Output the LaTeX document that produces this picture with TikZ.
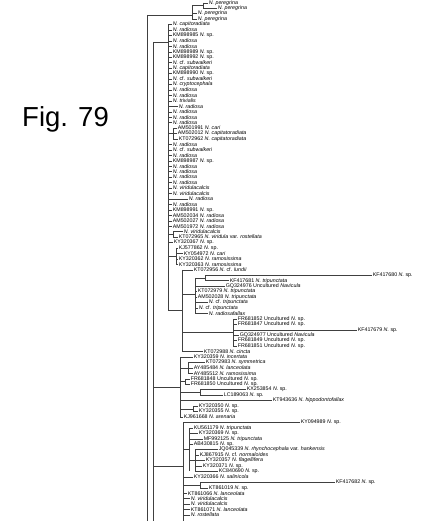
\documentclass[tikz,border=0pt]{standalone}
\usepackage{fontspec}
\setmainfont{Liberation Sans}
\tikzset{
  leaf/.style={anchor=west, inner sep=0.6pt, font=\fontsize{5.3}{5.3}\selectfont},
  br/.style={line width=0.35pt, black!75},
  figlabel/.style={anchor=base west, inner sep=0pt, font=\fontsize{27.5}{30}\selectfont},
}
\begin{document}
\begin{tikzpicture}[x=1pt,y=-1pt,declare function={ry(\r)=2.7+(\r-1)*5.45;}]
\useasboundingbox (0,0) rectangle (428,521);
\node[figlabel] (fig) at (22,127) {Fig. 79};
% backbone
\draw[br] (147,{ry(3.25)}) -- (147,521);
\draw[br] (153,{ry(8.2)}) -- (153,521);
% clades: name/x/top/bottom/parent x/attach row
\foreach \n/\x/\a/\b/\p/\m in {per/192/1.5/4/147/3.25, per2/203/1/2/192/1.5,
  rad/168/5/57.5/153/8.2, cari/173/24/26/168/25, vir/173/43/44/168/43.5,
  ram/176/46/49/168/47.5, lun/182/50/65/168/57.5, trip/195/51.5/58/182/54.5,
  kf/205/51/52/195/51.5, fr/233/59/64/182/61.5,
  low/180/66/77/153/71.5, sym/188/67/69/180/68, frb/185/70/71/180/70.5,
  kx/200/72/73/180/72.5, ksp/193/75/76/180/75.5,
  tri/183/78/96.5/153/86, trib/189/79/87/183/83, jq/195/83/87/189/85,
  kfb/200/89/90/183/89.5}{
  \coordinate (c\n) at (\x,{ry(\m)});
  \draw[br] (\x,{ry(\a)}) -- (\x,{ry(\b)});
  \draw[br] (\p,{ry(\m)}) -- (c\n);
}
% leaves: row/label x/parent x/text
\foreach \r/\x/\p/\t in {
  1/208/203/{\textit{N. peregrina}}, 2/217/203/{\textit{N. peregrina}},
  3/197/192/{\textit{N. peregrina}}, 4/197/192/{\textit{N. peregrina}},
  5/172/168/{\textit{N. capitoradiata}}, 6/172/168/{\textit{N. radiosa}},
  7/172/168/{KM898985 \textit{N.} sp.}, 8/172/168/{\textit{N. radiosa}},
  9/172/168/{\textit{N. radiosa}}, 10/172/168/{KM898989 \textit{N.} sp.},
  11/172/168/{KM898992 \textit{N.} sp.}, 12/172/168/{\textit{N.} cf. \textit{subwalkeri}},
  13/172/168/{\textit{N. capitoradiata}}, 14/172/168/{KM898990 \textit{N.} sp.},
  15/172/168/{\textit{N.} cf. \textit{subwalkeri}}, 16/172/168/{\textit{N. cryptocephala}},
  17/172/168/{\textit{N. radiosa}}, 18/172/168/{\textit{N. radiosa}},
  19/172/168/{\textit{N. trivialis}}, 20/178/168/{\textit{N. radiosa}},
  21/172/168/{\textit{N. radiosa}}, 22/172/168/{\textit{N. radiosa}},
  23/172/168/{\textit{N. radiosa}}, 24/177/173/{AM501991 \textit{N. cari}},
  25/177/173/{AM502012 \textit{N. capitatoradiata}}, 26/178/173/{KT072962 \textit{N. capitatoradiata}},
  27/172/168/{\textit{N. radiosa}}, 28/172/168/{\textit{N.} cf. \textit{subwalkeri}},
  29/172/168/{\textit{N. radiosa}}, 30/172/168/{KM898987 \textit{N.} sp.},
  31/172/168/{\textit{N. radiosa}}, 32/172/168/{\textit{N. radiosa}},
  33/172/168/{\textit{N. radiosa}}, 34/172/168/{\textit{N. radiosa}},
  35/172/168/{\textit{N. viridulacalcis}}, 36/172/168/{\textit{N. viridulacalcis}},
  37/188/168/{\textit{N. radiosa}}, 38/172/168/{\textit{N. radiosa}},
  39/172/168/{KM898991 \textit{N.} sp.}, 40/172/168/{AM502034 \textit{N. radiosa}},
  41/172/168/{AM502027 \textit{N. radiosa}}, 42/172/168/{AM501972 \textit{N. radiosa}},
  43/183/173/{\textit{N. viridulacalcis}}, 44/178/173/{KT072965 \textit{N. viridula} var. \textit{rostellata}},
  45/173/168/{KY320367 \textit{N.} sp.}, 46/178/176/{KJ577862 \textit{N.} sp.},
  47/183/176/{KY054972 \textit{N. cari}}, 48/178/176/{KY320362 \textit{N. ramosissima}},
  49/178/176/{KY320363 \textit{N. ramosissima}}, 50/193/182/{KT072956 \textit{N.} cf. \textit{lundii}},
  51/372/205/{KF417680 \textit{N.} sp.}, 52/229/205/{KF417681 \textit{N. tripunctata}},
  53/225/195/{GQ324976 Uncultured \textit{Navicula}}, 54/197/195/{KT072979 \textit{N. tripunctata}},
  55/197/195/{AM502028 \textit{N. tripunctata}}, 56/208/195/{\textit{N.} cf. \textit{tripunctata}},
  57/198/195/{\textit{N.} cf. \textit{tripunctata}}, 58/208/195/{\textit{N. radiosafallax}},
  59/237/233/{FR681852 Uncultured \textit{N.} sp.}, 60/237/233/{FR681847 Uncultured \textit{N.} sp.},
  61/357/233/{KF417679 \textit{N.} sp.}, 62/239/233/{GQ324977 Uncultured \textit{Navicula}},
  63/237/233/{FR681849 Uncultured \textit{N.} sp.}, 64/237/233/{FR681851 Uncultured \textit{N.} sp.},
  65/203/182/{KT072988 \textit{N. cincta}}, 66/193/180/{KY320359 \textit{N. incertata}},
  67/205/188/{KT072983 \textit{N. symmetrica}}, 68/193/188/{AY485484 \textit{N. lanceolata}},
  69/193/188/{AY485512 \textit{N. ramosissima}}, 70/190/185/{FR681848 Uncultured \textit{N.} sp.},
  71/190/185/{FR681850 Uncultured \textit{N.} sp.}, 72/246/200/{KX253854 \textit{N.} sp.},
  73/223/200/{LC189063 \textit{N.} sp.}, 74/272/180/{KT943636 \textit{N. hippodontofallax}},
  75/198/193/{KY320350 \textit{N.} sp.}, 76/198/193/{KY320355 \textit{N.} sp.},
  77/183/180/{KJ961668 \textit{N. arenaria}}, 78/300/183/{KY094989 \textit{N.} sp.},
  79/193/189/{KU561179 \textit{N. tripunctata}}, 80/198/189/{KY320369 \textit{N.} sp.},
  81/203/189/{MF992125 \textit{N. tripunctata}}, 82/193/189/{AB430815 \textit{N.} sp.},
  83/218/195/{JQ045339 \textit{N. rhynchocephala} var. \textit{hankensis}},
  84/199/195/{KJ867915 \textit{N.} cf. \textit{normaloides}}, 85/205/195/{KY320357 \textit{N. flagellifera}},
  86/202/195/{KY320371 \textit{N.} sp.}, 87/218/195/{KC840690 \textit{N.} sp.},
  88/193/183/{KY320366 \textit{N. salinicola}}, 89/335/200/{KF417682 \textit{N.} sp.},
  90/208/200/{KT861019 \textit{N.} sp.}, 91/187/183/{KT861066 \textit{N. lanceolata}},
  92/190/183/{\textit{N. viridulacalcis}}, 93/190/183/{\textit{N. viridulacalcis}},
  94/190/183/{KT861071 \textit{N. lanceolata}}, 95/190/183/{\textit{N. rostellata}}}{
  \node[leaf] (l\r) at (\x,{ry(\r)}) {\t};
  \draw[br] (\p,{ry(\r)}) -- (l\r.west);
}
\end{tikzpicture}
\end{document}
